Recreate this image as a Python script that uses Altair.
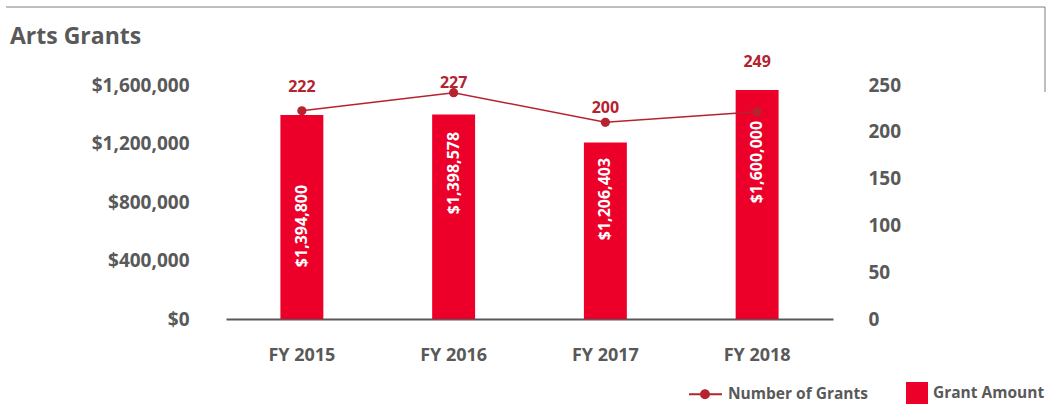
import altair as alt
import pandas as pd

# ---- data ----
years = ["FY 2015", "FY 2016", "FY 2017", "FY 2018"]
grant_amount = [1394800, 1398578, 1206403, 1566000]
grant_amount_labels = ["$1,394,800", "$1,398,578", "$1,206,403", "$1,600,000"]
amount_label_at = [636000, 998000, 820000, 1073000]
grant_count = [222.5, 241.8, 210.1, 221.5]
grant_count_labels = [222, 227, 200, 249]
amount_ticks = [0, 400000, 800000, 1200000, 1600000]
count_ticks = [0, 50, 100, 150, 200, 250]
series_names = ["Number of Grants", "Grant Amount"]
series_colors = ["#B5232F", "#EC0029"]

df = pd.DataFrame({
    "year": years,
    "amount": grant_amount,
    "amount_label": grant_amount_labels,
    "amount_label_at": amount_label_at,
    "count": grant_count,
    "count_label": grant_count_labels,
})

FONT = "Open Sans"
GRAY = "#595959"
LINE_RED = "#B5232F"

# legend glyph: short line with a dot (unit = 11 px at symbolSize 484)
LINE_DOT = ("M-2.09,-0.09H0.91V0.09H-2.09Z"
            "M-1.086,0A0.45,0.45 0 1,1 -0.186,0A0.45,0.45 0 1,1 -1.086,0Z")

x_enc = alt.X(
    "year:N", sort=years, title=None,
    scale=alt.Scale(paddingInner=0.717, paddingOuter=0.3585),
    axis=alt.Axis(labelAngle=0, labelFont=FONT, labelFontSize=18, labelFontWeight="bold",
                  labelColor=GRAY, labelPadding=27, ticks=False, grid=False,
                  domainColor=GRAY, domainWidth=2),
)

amount_scale = alt.Scale(domain=[0, 1600000], nice=False)
count_scale = alt.Scale(domain=[0, 250], nice=False)
color_scale = alt.Scale(domain=series_names, range=series_colors)
shape_scale = alt.Scale(domain=series_names, range=[LINE_DOT, "square"])

legend = alt.Legend(
    title=None, orient="none", legendX=475, legendY=297, direction="horizontal",
    labelFont=FONT, labelFontSize=15.5, labelFontWeight="bold", labelColor=GRAY,
    symbolSize=484, symbolOpacity=1, symbolStrokeWidth=0, labelOffset=5,
    columnPadding=38, padding=0,
)

bars = alt.Chart(df).transform_calculate(series="'Grant Amount'").mark_bar().encode(
    x=x_enc,
    y=alt.Y("amount:Q", scale=amount_scale, title=None,
            axis=alt.Axis(orient="left", values=amount_ticks, format="$,.0f", grid=False,
                          domain=False, ticks=False, labelFont=FONT, labelFontSize=19,
                          labelFontWeight="bold", labelColor=GRAY, labelPadding=37)),
    color=alt.Color("series:N", scale=color_scale, legend=legend),
)

bar_text = alt.Chart(df).mark_text(
    angle=270, color="white", font=FONT, fontSize=16, fontWeight="bold",
    align="center", baseline="middle",
).encode(
    x=alt.X("year:N", sort=years),
    y=alt.Y("amount_label_at:Q", scale=amount_scale),
    text="amount_label:N",
)

left = alt.layer(bars, bar_text)

line = alt.Chart(df).mark_line(color=LINE_RED, strokeWidth=1.5).encode(
    x=alt.X("year:N", sort=years),
    y=alt.Y("count:Q", scale=count_scale, title=None,
            axis=alt.Axis(orient="right", values=count_ticks, grid=False, domain=False,
                          ticks=False, labelFont=FONT, labelFontSize=19,
                          labelFontWeight="bold", labelColor=GRAY, labelPadding=35)),
)

points = alt.Chart(df).mark_circle(size=85, color=LINE_RED, opacity=1).encode(
    x=alt.X("year:N", sort=years),
    y=alt.Y("count:Q", scale=count_scale),
)

count_text = alt.Chart(df).mark_text(
    dy=-24, color=LINE_RED, font=FONT, fontSize=16, fontWeight="bold",
    align="center", baseline="middle",
).encode(
    x=alt.X("year:N", sort=years),
    y=alt.Y("count_label:Q", scale=count_scale),
    text="count_label:Q",
)

# legend-only layer (draws nothing): supplies the shape scale for the legend glyphs
legend_layer = alt.Chart(df).transform_filter("false").transform_calculate(
    series="'Number of Grants'"
).mark_point(filled=True).encode(
    x=alt.X("year:N", sort=years),
    y=alt.Y("count:Q", scale=count_scale),
    color=alt.Color("series:N", scale=color_scale, legend=legend),
    shape=alt.Shape("series:N", scale=shape_scale, legend=legend),
)

right = alt.layer(line, points, count_text, legend_layer)

one = pd.DataFrame({"k": [0]})
border_top = alt.Chart(one).mark_rule(color="#7F7F7F", strokeWidth=1).encode(
    x=alt.value(-220), x2=alt.value(819), y=alt.value(-78))
border_right = alt.Chart(one).mark_rule(color="#7F7F7F", strokeWidth=1).encode(
    x=alt.value(819), y=alt.value(-78), y2=alt.value(7))

chart = alt.layer(left, right, border_top, border_right).resolve_scale(
    y="independent"
).properties(
    width=607, height=234,
    title=alt.TitleParams("Arts Grants", anchor="start", frame="group", dx=-216, offset=-42,
                          font=FONT, fontSize=23, fontWeight="bold", color=GRAY),
    padding={"left": 226, "top": 85, "right": 216, "bottom": 87},
    autosize=alt.AutoSizeParams(type="none"),
).configure_view(stroke=None)

chart.save("out.html", embed_options={"renderer": "svg", "actions": False})
